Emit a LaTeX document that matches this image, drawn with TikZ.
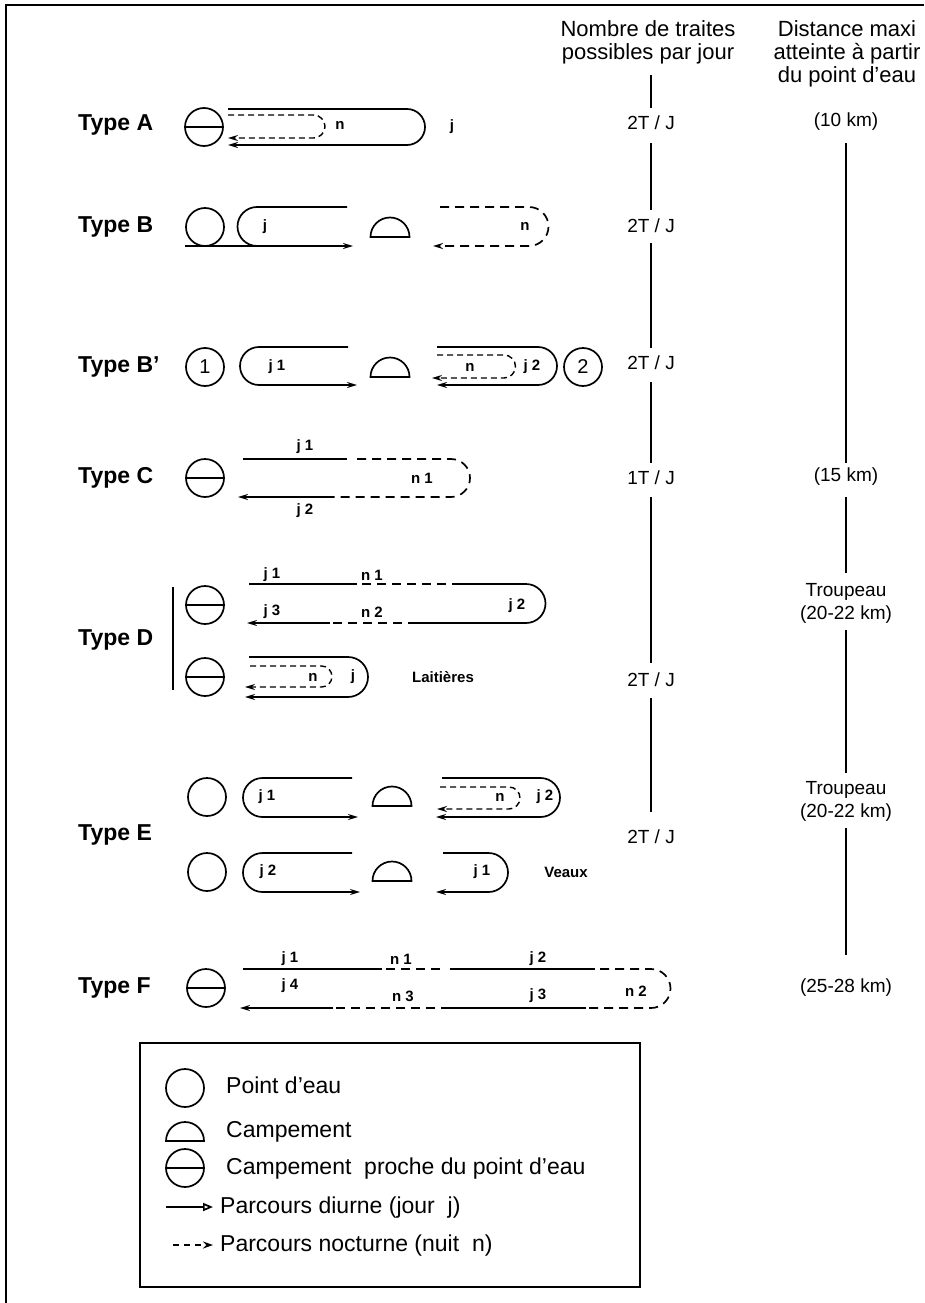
\documentclass[tikz,border=0pt]{standalone}
\usepackage{fontspec}
\setmainfont{Liberation Sans}
\usetikzlibrary{arrows.meta}
\begin{document}
\begin{tikzpicture}[x=1pt,y=-1pt,
  route/.style={line width=1.7pt},
  nroute/.style={line width=1.7pt, dash pattern=on 9pt off 6pt},
  snroute/.style={line width=1.4pt, dash pattern=on 6pt off 4pt},
  tip/.style={-{Stealth[length=10pt,width=6pt]}},
  water/.style={circle, draw, line width=1.7pt, minimum size=38pt, inner sep=0pt, font=\fontsize{20}{20}\selectfont},
  typelbl/.style={anchor=west, inner sep=0pt, font=\fontsize{23}{24}\selectfont\bfseries},
  seg/.style={inner sep=1pt, font=\fontsize{15}{15}\selectfont\bfseries},
  small/.style={inner sep=1pt, font=\fontsize{15}{15}\selectfont\bfseries},
  col/.style={inner sep=0pt, font=\fontsize{19}{19}\selectfont},
  head/.style={inner sep=0pt, anchor=base, font=\fontsize{22}{22}\selectfont},
  colline/.style={line width=1.7pt},
  legtext/.style={anchor=west, inner sep=0pt, font=\fontsize{23}{24}\selectfont},
]
\useasboundingbox (0,0) rectangle (924,1303);
% frame
\draw[line width=1.2pt] (6,1303) -- (6,5) -- (924,5);

% headers
\node[head] (h1a) at (648,37) {Nombre de traites};
\node[head] (h1b) at (648,60) {possibles par jour};
\node[head] (h2a) at (847,37) {Distance maxi};
\node[head] (h2b) at (847,60) {atteinte à partir};
\node[head] (h2c) at (847,83) {du point d'eau};

% ---------------- Type A
\node[typelbl] (tA) at (78,125) {Type A};
\node[water] (wA) at (204,127) {};
\draw[route] (wA.west) -- (wA.east);
\draw[route,tip] (228,109) -- (407,109) arc[start angle=-90,end angle=90,radius=18] -- (228,145);
\draw[snroute,tip] (228,115) -- (313.5,115) arc[start angle=-90,end angle=90,radius=11.5] -- (228,138);
\node[seg] (nA) at (340,125) {n};
\node[seg] (jA) at (452,127) {j};

% ---------------- Type B
\node[typelbl] (tB) at (78,227) {Type B};
\node[water] (wB) at (205,227) {};
\draw[route] (347,207) -- (257,207) arc[start angle=270,end angle=90,radius=19.5];
\draw[route,tip] (185,246) -- (353,246);
\draw[route] (370.5,237) arc[start angle=180,end angle=360,radius=19.5] -- cycle;
\draw[nroute,tip] (440,207) -- (529,207) arc[start angle=-90,end angle=90,radius=19.5] -- (433,246);
\node[seg] (jB) at (265,227) {j};
\node[seg] (nB) at (525,226) {n};

% ---------------- Type B'
\node[typelbl] (tBp) at (78,367) {Type B'};
\node[water] (w1) at (205,367) {1};
\draw[route,tip] (348,347) -- (259,347) arc[start angle=270,end angle=90,radius=19] -- (357,385);
\draw[route] (370.5,377) arc[start angle=180,end angle=360,radius=19.5] -- cycle;
\draw[route,tip] (437,347) -- (538,347) arc[start angle=-90,end angle=90,radius=19] -- (437,385);
\draw[snroute,tip] (437,355) -- (504,355) arc[start angle=-90,end angle=90,radius=11.5] -- (432,378);
\node[seg] (jBp1) at (277,367) {j 1};
\node[seg] (nBp) at (470,367) {n};
\node[seg] (jBp2) at (532,367) {j 2};
\node[water] (w2) at (583,367) {2};

% ---------------- Type C
\node[typelbl] (tC) at (78,478) {Type C};
\node[water] (wC) at (205,478) {};
\draw[route] (wC.west) -- (wC.east);
\draw[route] (243,459) -- (347,459);
\draw[nroute] (357,459) -- (451,459) arc[start angle=-90,end angle=90,radius=19] -- (332,497);
\draw[route,tip] (332,497) -- (238,497);
\node[seg] (jC1) at (305,447) {j 1};
\node[seg] (jC2) at (305,511) {j 2};
\node[seg] (nC1) at (422,478) {n 1};

% ---------------- Type D
\node[typelbl] (tD) at (78,640) {Type D};
\draw[route] (173,587) -- (173,690);
\node[water] (wD1) at (205,605) {};
\draw[route] (wD1.west) -- (wD1.east);
\draw[route] (249,584) -- (357,584);
\draw[nroute] (362,584) -- (448,584);
\draw[route] (452,584) -- (526,584) arc[start angle=-90,end angle=90,radius=19.5] -- (417,623);
\draw[nroute] (417,623) -- (330,623);
\draw[route,tip] (330,623) -- (247,623);
\node[seg] (jD1) at (272,575) {j 1};
\node[seg] (nD1) at (372,575) {n 1};
\node[seg] (jD3) at (272,612) {j 3};
\node[seg] (nD2) at (372,612) {n 2};
\node[seg] (jD2) at (517,606) {j 2};
\node[water] (wD2) at (205,677) {};
\draw[route] (wD2.west) -- (wD2.east);
\draw[route,tip] (249,657) -- (348,657) arc[start angle=-90,end angle=90,radius=20] -- (245,697);
\draw[snroute,tip] (250,666) -- (321.5,666) arc[start angle=-90,end angle=90,radius=10.5] -- (245,687);
\node[seg] (nD) at (313,677) {n};
\node[seg] (jD) at (353,677) {j};
\node[small] (lait) at (443,677) {Laitières};

% ---------------- Type E
\node[typelbl] (tE) at (78,835) {Type E};
\node[water] (wE1) at (207,797) {};
\draw[route,tip] (352,778) -- (262.5,778) arc[start angle=270,end angle=90,radius=19.5] -- (358,817);
\draw[route] (372.5,806) arc[start angle=180,end angle=360,radius=19.5] -- cycle;
\draw[route,tip] (442,778) -- (540.5,778) arc[start angle=-90,end angle=90,radius=19.5] -- (436,817);
\draw[snroute,tip] (440,787) -- (509,787) arc[start angle=-90,end angle=90,radius=11] -- (437,809);
\node[seg] (jE1) at (267,797) {j 1};
\node[seg] (nE) at (500,797) {n};
\node[seg] (jE2) at (545,797) {j 2};
\node[water] (wE2) at (207,872) {};
\draw[route,tip] (352,853) -- (262.5,853) arc[start angle=270,end angle=90,radius=19.5] -- (360,892);
\draw[route] (372.5,881) arc[start angle=180,end angle=360,radius=19.5] -- cycle;
\draw[route,tip] (443,853) -- (488.5,853) arc[start angle=-90,end angle=90,radius=19.5] -- (436,892);
\node[seg] (jE2b) at (268,872) {j 2};
\node[seg] (jE1b) at (482,872) {j 1};
\node[small] (veaux) at (566,872) {Veaux};

% ---------------- Type F
\node[typelbl] (tF) at (78,988) {Type F};
\node[water] (wF) at (206,988) {};
\draw[route] (wF.west) -- (wF.east);
\draw[route] (243,969) -- (382,969);
\draw[nroute] (386,969) -- (444,969);
\draw[route] (450,969) -- (595,969);
\draw[nroute] (600,969) -- (651,969) arc[start angle=-90,end angle=90,radius=19.5] -- (586,1008);
\draw[route] (586,1008) -- (450,1008);
\draw[nroute] (450,1008) -- (333,1008);
\draw[route,tip] (333,1008) -- (240,1008);
\node[seg] (jF1) at (290,959) {j 1};
\node[seg] (nF1) at (401,959) {n 1};
\node[seg] (jF2) at (538,959) {j 2};
\node[seg] (jF4) at (290,986) {j 4};
\node[seg] (nF3) at (403,996) {n 3};
\node[seg] (jF3) at (538,996) {j 3};
\node[seg] (nF2) at (636,991) {n 2};

% ---------------- column 1
\node[col] (c1) at (651,123) {2T / J};
\node[col] (c2) at (651,226) {2T / J};
\node[col] (c3) at (651,363) {2T / J};
\node[col] (c4) at (651,478) {1T / J};
\node[col] (c5) at (651,680) {2T / J};
\node[col] (c6) at (651,837) {2T / J};
\coordinate (c0) at (651,75);
\draw[colline] (c0) -- (651,108);
\draw[colline] (651,143) -- (651,210);
\draw[colline] (651,243) -- (651,348);
\draw[colline] (651,382) -- (651,463);
\draw[colline] (651,497) -- (651,663);
\draw[colline] (651,698) -- (651,812);

% ---------------- column 2
\node[col] (d1) at (846,122) {(10 km)};
\node[col] (d2) at (846,477) {(15 km)};
\node[col,align=center,font=\fontsize{19}{23}\selectfont] (d3) at (846,603) {Troupeau\\(20-22 km)};
\node[col,align=center,font=\fontsize{19}{23}\selectfont] (d4) at (846,801) {Troupeau\\(20-22 km)};
\node[col] (d5) at (846,988) {(25-28 km)};
\draw[colline] (846,143) -- (846,463);
\draw[colline] (846,497) -- (846,573);
\draw[colline] (846,630) -- (846,773);
\draw[colline] (846,828) -- (846,955);

% ---------------- legend
\draw[line width=1.7pt] (140,1043) rectangle (640,1287);
\node[water] (lw) at (185,1088) {};
\node[legtext] (l1) at (226,1085) {Point d'eau};
\draw[route] (166,1141) arc[start angle=180,end angle=360,radius=19] -- cycle;
\node[legtext] (l2) at (226,1132) {Campement};
\node[water] (lc) at (185,1168) {};
\draw[route] (lc.west) -- (lc.east);
\node[legtext] (l3) at (226,1169) {Campement\ \ proche du point d'eau};
\node[legtext] (l4) at (220,1208) {Parcours diurne (jour\ \ j)};
\coordinate (a1s) at (166,1207);
\coordinate (a1e) at (213,1207);
\draw[route,-{Triangle[open,length=10pt,width=8pt]}] (a1s) -- (a1e);
\node[legtext] (l5) at (220,1246) {Parcours nocturne (nuit\ \ n)};
\coordinate (a2s) at (173,1245);
\coordinate (a2e) at (213,1245);
\draw[line width=1.7pt, dash pattern=on 6pt off 5pt,-{Stealth[length=10pt,width=7pt]}] (a2s) -- (a2e);
\end{tikzpicture}
\end{document}
